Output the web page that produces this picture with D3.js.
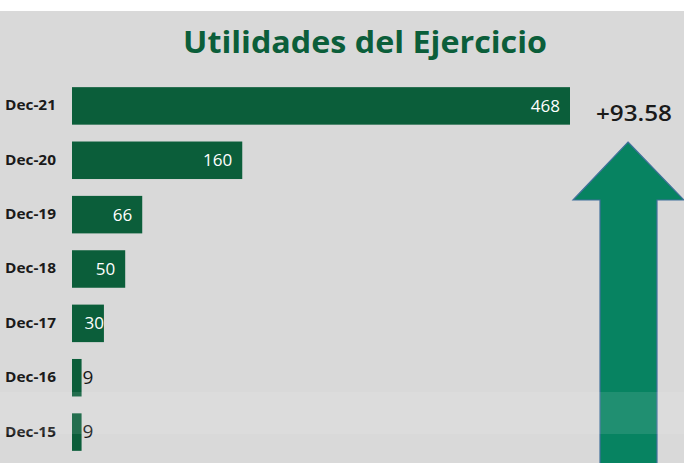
<!DOCTYPE html>
<html><head><meta charset="utf-8">
<script src="https://cdn.jsdelivr.net/npm/d3@7"></script>
<style>html,body{margin:0;padding:0;background:#fff;}svg{display:block;}</style>
</head><body>
<svg id="c" width="684" height="463"></svg>
<script>
const categories = ["Dec-21","Dec-20","Dec-19","Dec-18","Dec-17","Dec-16","Dec-15"];
const values = [468,160,66,50,30,9,9];
const title = "Utilidades del Ejercicio";
const growthLabel = "+93.58";

const W = 684, H = 463;
const svg = d3.select("#c");
svg.append("rect").attr("x",0).attr("y",11).attr("width",W).attr("height",H-11).attr("fill","#d9d9d9");

svg.append("text").attr("x",365).attr("y",53).attr("text-anchor","middle")
  .attr("font-family","'Open Sans', sans-serif").attr("font-weight","bold")
  .attr("font-size",30).attr("fill","#0b5e3a").attr("textLength",364).attr("lengthAdjust","spacingAndGlyphs").text(title);

const x = d3.scaleLinear().domain([0,468]).range([72,570]);
const y = d3.scaleBand().domain(categories).range([79,459]).paddingInner(0.31).paddingOuter(0.15);

const g = svg.append("g");
g.selectAll("rect.bar").data(values).join("rect").attr("class","bar")
  .attr("x",x(0)).attr("y",(d,i)=>y(categories[i]))
  .attr("width",d=>x(d)-x(0)).attr("height",y.bandwidth())
  .attr("fill","#0b5e3a");

const yAxis = d3.axisLeft(y).tickSize(0).tickPadding(0);
const ax = svg.append("g").attr("transform","translate(5,0)").call(yAxis);
ax.select(".domain").remove();
ax.selectAll("text").attr("font-family","'Open Sans', sans-serif").attr("font-weight","bold")
  .attr("font-size",14).attr("fill","#1a1a1a").attr("text-anchor","start")
  .attr("textLength",51).attr("lengthAdjust","spacingAndGlyphs");

g.selectAll("text.val").data(values).join("text").attr("class","val")
  .attr("x",(d)=> d>=40 ? x(d)-10 : (d>=20 ? x(d) : x(d)+1))
  .attr("y",(d,i)=>y(categories[i])+y.bandwidth()/2+6)
  .attr("text-anchor",d=> d>=20 ? "end" : "start")
  .attr("font-family","'Open Sans', sans-serif").attr("font-size",d=> d>=20 ? 17 : 19)
  .attr("fill",d=> d>=20 ? "#ffffff" : "#1a1a1a")
  .text(d=>d);

// growth arrow
const arrow = d3.path();
arrow.moveTo(628,142); arrow.lineTo(684,200); arrow.lineTo(657,200); arrow.lineTo(657,470);
arrow.lineTo(600,470); arrow.lineTo(600,200); arrow.lineTo(573,200); arrow.closePath();
svg.append("path").attr("d",arrow.toString()).attr("fill","#078361").attr("stroke","#41719c").attr("stroke-width",1.2);

svg.append("text").attr("x",634).attr("y",121).attr("text-anchor","middle")
  .attr("font-family","'Open Sans', sans-serif").attr("font-weight",600).attr("font-size",21).attr("fill","#1a1a1a")
  .attr("textLength",76).attr("lengthAdjust","spacingAndGlyphs").text(growthLabel);

// light screen band
svg.append("rect").attr("x",0).attr("y",392).attr("width",W).attr("height",42).attr("fill","#ffffff").attr("opacity",0.1);
</script>
</body></html>
